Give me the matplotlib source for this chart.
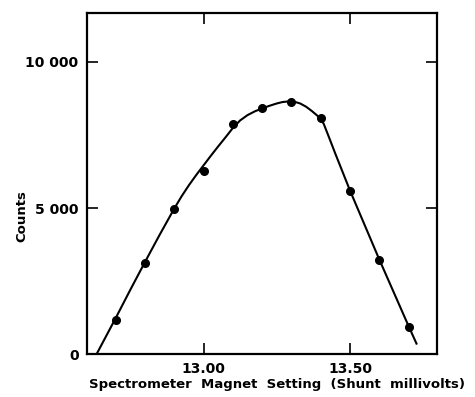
import matplotlib
matplotlib.use("Agg")
import matplotlib.pyplot as plt

# measured points
x_pts = [12.70, 12.80, 12.90, 13.00, 13.10, 13.20, 13.30, 13.40, 13.50, 13.60, 13.70]
y_pts = [1170, 3110, 4980, 6280, 7870, 8410, 8620, 8080, 5580, 3230, 940]

# hand-drawn smooth curve
x_curve = [12.635, 12.70, 12.75, 12.80, 12.85, 12.90, 12.925, 12.95, 12.975, 13.00,
           13.025, 13.05, 13.075, 13.10, 13.125, 13.15, 13.175, 13.20, 13.225, 13.25,
           13.27, 13.29, 13.31, 13.33, 13.35, 13.37, 13.39, 13.41, 13.43, 13.45,
           13.50, 13.55, 13.60, 13.65, 13.70, 13.727]
y_curve = [0, 1230, 2200, 3150, 4080, 4980, 5400, 5780, 6130, 6460,
           6790, 7110, 7420, 7740, 8000, 8180, 8310, 8410, 8500, 8580,
           8630, 8650, 8640, 8580, 8470, 8320, 8150, 7890, 7380, 6860,
           5600, 4420, 3240, 2100, 960, 360]

x_ticks = [13.00, 13.50]
x_ticklabels = ["13.00", "13.50"]
y_ticks = [0, 5000, 10000]
y_ticklabels = ["0", "5 000", "10 000"]

fig = plt.figure(figsize=(4.75, 3.97), dpi=100)
ax = fig.add_axes([0.183, 0.108, 0.737, 0.858])

ax.plot(x_curve, y_curve, color="black", lw=1.5, zorder=2,
        solid_joinstyle="round")
ax.plot(x_pts, y_pts, "o", color="black", ms=5.5, zorder=3)

ax.set_xlim(12.602, 13.797)
ax.set_ylim(0, 11660)

ax.set_xticks(x_ticks)
ax.set_xticklabels(x_ticklabels)
ax.set_yticks(y_ticks)
ax.set_yticklabels(y_ticklabels)

ax.tick_params(direction="in", length=8, width=1.2, top=True, right=True,
               labelsize=10, pad=6)
for lab in ax.get_xticklabels() + ax.get_yticklabels():
    lab.set_fontweight("bold")
for s in ax.spines.values():
    s.set_linewidth(1.6)

fig.text(0.584, 0.032, "Spectrometer  Magnet  Setting  (Shunt  millivolts)",
         ha="center", va="center", fontsize=9.5, fontweight="bold")
fig.text(0.045, 0.455, "Counts", ha="center", va="center", rotation=90,
         fontsize=9.5, fontweight="bold")

fig.savefig("out.png", dpi=100)
